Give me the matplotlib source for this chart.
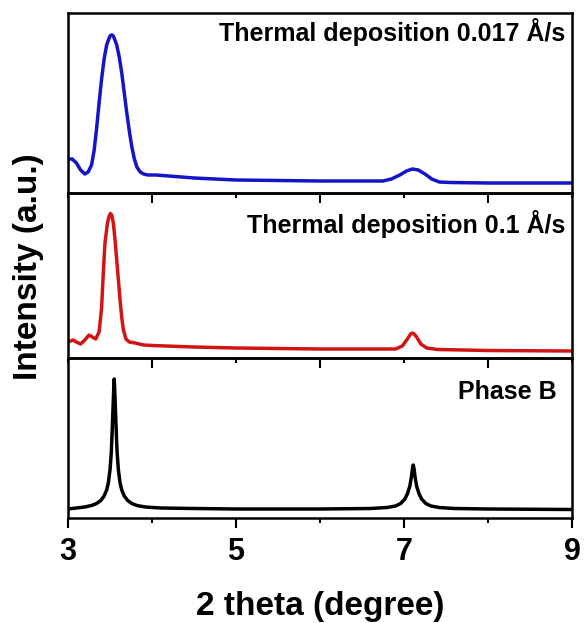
import matplotlib
matplotlib.use("Agg")
import matplotlib.pyplot as plt
from matplotlib.ticker import MultipleLocator

plt.rcParams['font.family'] = ['Liberation Sans', 'DejaVu Sans']
plt.rcParams['font.weight'] = 'bold'

# intensity values (arbitrary units, panel-relative)
x_blue = [3.00, 3.05, 3.10, 3.15, 3.20, 3.24, 3.28, 3.31, 3.34, 3.37, 3.40, 3.43,
          3.46, 3.49, 3.505, 3.52, 3.535, 3.55, 3.58, 3.61, 3.64, 3.67, 3.70, 3.73,
          3.76, 3.79, 3.82, 3.86, 3.90, 3.95, 4.05, 4.20, 4.50, 5.00, 5.50, 6.00,
          6.50, 6.75, 6.85, 6.95, 7.03, 7.10, 7.17, 7.25, 7.33, 7.42, 7.55, 8.00,
          8.50, 9.00]
y_blue = [34, 34, 30, 23, 19, 21, 28, 42, 64, 90, 114, 134,
          148, 155, 157.5, 158, 157.5, 155, 148, 136, 120, 100, 80, 62,
          46, 34, 26, 21, 19, 18, 18, 17, 15, 13, 12.5, 12,
          12, 12, 14, 18, 22, 24, 23, 19, 14, 11, 10.5, 10,
          10, 10]

x_red = [3.00, 3.06, 3.10, 3.15, 3.20, 3.25, 3.29, 3.33, 3.37, 3.40, 3.42, 3.44,
         3.47, 3.49, 3.505, 3.52, 3.54, 3.56, 3.58, 3.60, 3.62, 3.64, 3.66, 3.69,
         3.73, 3.80, 3.90, 4.00, 4.50, 5.00, 6.00, 6.90, 6.98, 7.04, 7.08, 7.10,
         7.12, 7.15, 7.20, 7.27, 7.40, 8.00, 9.00]
y_red = [16, 18, 16, 14, 18, 23, 21, 19, 26, 50, 85, 115,
         135, 142, 144.5, 143, 135, 118, 98, 78, 58, 40, 28, 19,
         16, 15, 13, 12.5, 11, 10, 9, 9, 12, 19, 24, 25,
         24, 21, 14, 10, 8.5, 7.5, 7]

x_black = [3.00, 3.10, 3.20, 3.28, 3.34, 3.39, 3.43, 3.46, 3.48, 3.50, 3.515, 3.525,
           3.535, 3.545, 3.55, 3.555, 3.565, 3.575, 3.585, 3.60, 3.62, 3.64, 3.67, 3.71,
           3.76, 3.82, 3.92, 4.10, 4.50, 5.00, 6.00, 6.60, 6.80, 6.90, 6.96, 7.01,
           7.04, 7.07, 7.09, 7.10, 7.11, 7.12, 7.13, 7.15, 7.18, 7.21, 7.26, 7.32,
           7.42, 7.60, 8.00, 9.00]
y_black = [9, 10, 11, 12.5, 14.5, 17.5, 22, 28, 35, 48, 65, 85,
           108, 130, 139, 130, 108, 85, 65, 48, 35, 28, 22, 17.5,
           14.5, 12.5, 11, 10, 9.5, 9, 9, 9.5, 10.5, 12, 14.5, 19,
           24, 32, 42, 49, 53, 49, 42, 32, 24, 19, 14.5, 12,
           10.5, 9.5, 9, 8.5]

labels = ['Thermal deposition 0.017 Å/s', 'Thermal deposition 0.1 Å/s', 'Phase B']
colors = ['#1414c8', '#d21414', 'black']
xticks = [3, 5, 7, 9]

fig = plt.figure(figsize=(5.84, 6.23), dpi=100)

# panel edges in pixels (top, bottom)
W, H = 584, 623
left, right = 68, 572
edges = [(13, 193), (193, 358), (358, 518)]
label_pos = [(0.986, 0.844), (0.986, 0.758), (0.970, 0.744)]
data = [(x_blue, y_blue), (x_red, y_red), (x_black, y_black)]

for i, ((top, bot), (xs, ys)) in enumerate(zip(edges, data)):
    ax = fig.add_axes([left / W, 1 - bot / H, (right - left) / W, (bot - top) / H])
    ax.patch.set_visible(False)
    ax.plot(xs, ys, color=colors[i], lw=2.5, solid_joinstyle='round')
    ax.set_xlim(3, 9)
    ax.set_ylim(0, bot - top)
    ax.set_yticks([])
    ax.xaxis.set_major_locator(MultipleLocator(2))
    ax.xaxis.set_minor_locator(MultipleLocator(1))
    ax.tick_params(axis='x', which='major', direction='out', length=7, width=1.5,
                   labelsize=22, pad=7)
    ax.tick_params(axis='x', which='minor', direction='out', length=3.5, width=1.5)
    for s in ax.spines.values():
        s.set_linewidth(1.8)
    if i < 2:
        ax.tick_params(axis='x', labelbottom=False)
    else:
        ax.set_xticks(xticks)
        ax.set_xticklabels([str(t) for t in xticks], fontweight='bold')
    ax.text(label_pos[i][0], label_pos[i][1], labels[i], transform=ax.transAxes,
            ha='right', va='baseline', fontsize=18, fontweight='bold')

fig.text(320 / W, 1 - 615 / H, '2 theta (degree)', ha='center', va='baseline',
         fontsize=24, fontweight='bold')
fig.text(37 / W, 1 - 267 / H, 'Intensity (a.u.)', rotation=90, rotation_mode='anchor',
         ha='center', va='baseline', fontsize=24, fontweight='bold')

fig.savefig('out.png', dpi=100)
